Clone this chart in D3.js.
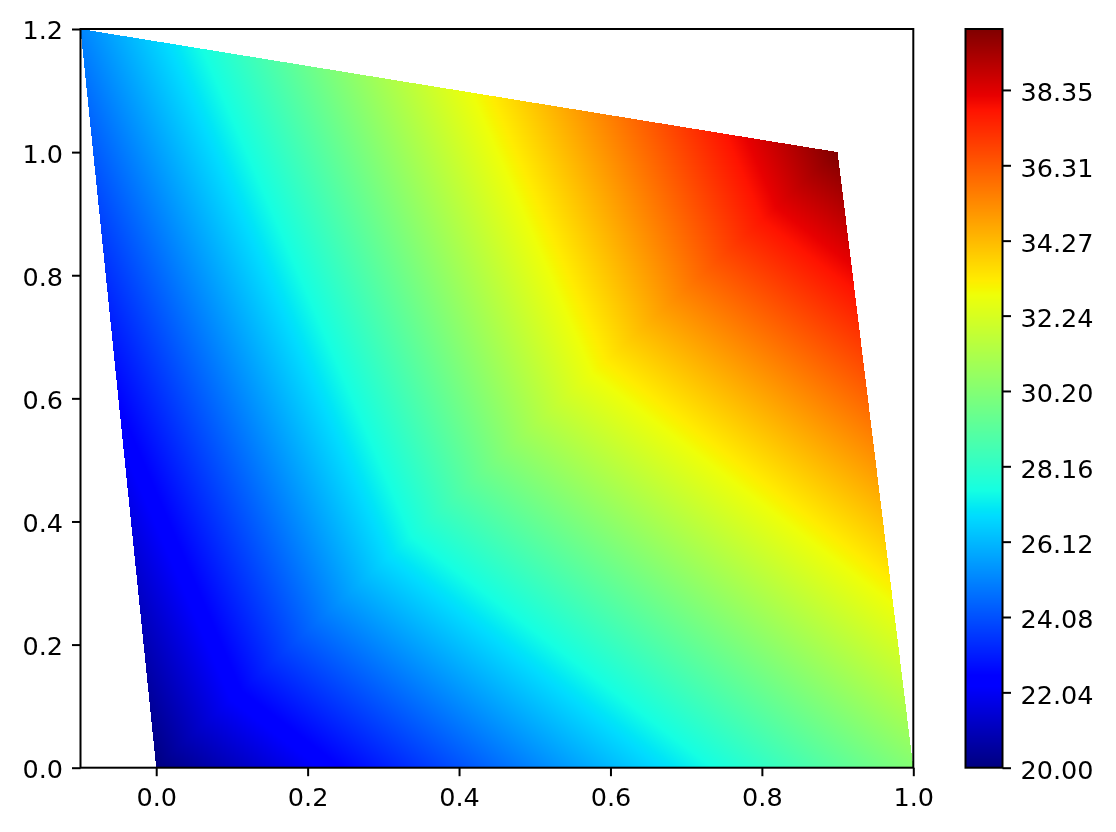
<!DOCTYPE html>
<html>
<head>
<meta charset="utf-8">
<script src="https://cdn.jsdelivr.net/npm/d3@7"></script>
<style>
  body { margin: 0; background: #fff; }
  #wrap { position: relative; width: 1116px; height: 832px; }
  #wrap canvas, #wrap svg { position: absolute; left: 0; top: 0; }
  text { font-family: "DejaVu Sans", sans-serif; font-size: 25.5px; fill: #000; }
</style>
</head>
<body>
<div id="wrap"></div>
<script>
// mesh nodes (x, y) and the value at each node
var nodeX = [0.0, 1.0, 0.9, -0.1];
var nodeY = [0.0, 0.0, 1.0, 1.2];
var nodeZ = [20.0, 30.2, 40.0, 25.1];
var triangles = [[0, 1, 2], [0, 2, 3]];

var xTicks = [0.0, 0.2, 0.4, 0.6, 0.8, 1.0];
var yTicks = [0.0, 0.2, 0.4, 0.6, 0.8, 1.0, 1.2];
var cbTicks = [20.00, 22.04, 24.08, 26.12, 28.16, 30.20, 32.24, 34.27, 36.31, 38.35];
var vmin = 20.0, vmax = 40.0;

var W = 1116, H = 832;
var margin = {left: 80.5, right: 913.3, top: 29, bottom: 767.7};
var cb = {left: 965.5, right: 1002.5};

var xScale = d3.scaleLinear().domain([-0.1, 1.0]).range([margin.left, margin.right]);
var yScale = d3.scaleLinear().domain([0, 1.2]).range([margin.bottom, margin.top]);
var cScale = d3.scaleLinear().domain([vmin, vmax]).range([margin.bottom, margin.top]);

// jet colormap, piecewise linear like matplotlib's
var jetR = d3.scaleLinear().domain([0, 0.35, 0.66, 0.89, 1]).range([0, 0, 1, 1, 0.5]).clamp(true);
var jetG = d3.scaleLinear().domain([0, 0.125, 0.375, 0.64, 0.91, 1]).range([0, 0, 1, 1, 0, 0]).clamp(true);
var jetB = d3.scaleLinear().domain([0, 0.11, 0.34, 0.65, 1]).range([0.5, 1, 1, 0, 0]).clamp(true);
var norm = d3.scaleLinear().domain([vmin, vmax]).range([0, 1]).clamp(true);
function jet(v) {
  var t = norm(v);
  return [Math.round(jetR(t) * 255), Math.round(jetG(t) * 255), Math.round(jetB(t) * 255)];
}

var wrap = d3.select('#wrap');
var canvas = wrap.append('canvas').attr('width', W).attr('height', H).node();
var ctx = canvas.getContext('2d');
var img = ctx.createImageData(W, H);

function setPix(px, py, c) {
  var k = (py * W + px) * 4;
  img.data[k] = c[0]; img.data[k + 1] = c[1]; img.data[k + 2] = c[2]; img.data[k + 3] = 255;
}

////////////////////// gouraud shaded triangles //////////////////////
for (var py = Math.floor(margin.top); py < Math.ceil(margin.bottom); py++) {
  for (var px = Math.floor(margin.left); px < Math.ceil(margin.right); px++) {
    var x = xScale.invert(px + 0.5), y = yScale.invert(py + 0.5);
    for (var t = 0; t < triangles.length; t++) {
      var a = triangles[t][0], b = triangles[t][1], c = triangles[t][2];
      var det = (nodeY[b] - nodeY[c]) * (nodeX[a] - nodeX[c]) + (nodeX[c] - nodeX[b]) * (nodeY[a] - nodeY[c]);
      var l1 = ((nodeY[b] - nodeY[c]) * (x - nodeX[c]) + (nodeX[c] - nodeX[b]) * (y - nodeY[c])) / det;
      var l2 = ((nodeY[c] - nodeY[a]) * (x - nodeX[c]) + (nodeX[a] - nodeX[c]) * (y - nodeY[c])) / det;
      var l3 = 1 - l1 - l2;
      var e = -1e-6;
      if (l1 >= e && l2 >= e && l3 >= e) {
        setPix(px, py, jet(l1 * nodeZ[a] + l2 * nodeZ[b] + l3 * nodeZ[c]));
        break;
      }
    }
  }
}

////////////////////// colorbar //////////////////////
for (var py = Math.floor(margin.top); py < Math.ceil(margin.bottom); py++) {
  var col = jet(cScale.invert(py + 0.5));
  for (var px = Math.floor(cb.left); px < Math.ceil(cb.right); px++) setPix(px, py, col);
}
ctx.putImageData(img, 0, 0);

////////////////////// axes //////////////////////
var svg = wrap.append('svg').attr('width', W).attr('height', H);

var xAxis = d3.axisBottom(xScale).tickValues(xTicks).tickFormat(d3.format('.1f')).tickSize(8.5).tickPadding(8);
var yAxis = d3.axisLeft(yScale).tickValues(yTicks).tickFormat(d3.format('.1f')).tickSize(8.5).tickPadding(9);
var cAxis = d3.axisRight(cScale).tickValues(cbTicks).tickFormat(d3.format('.2f')).tickSize(8.5).tickPadding(9.5);

function styleAxis(g) {
  g.select('.domain').remove();
  g.selectAll('.tick line').attr('stroke', '#000').attr('stroke-width', 2);
  g.selectAll('.tick text').attr('fill', '#000');
}

svg.append('g').attr('transform', 'translate(0,' + margin.bottom + ')').call(xAxis).call(styleAxis)
  .selectAll('.tick text').attr('dy', '22.3px');
svg.append('g').attr('transform', 'translate(' + margin.left + ',0)').call(yAxis).call(styleAxis)
  .selectAll('.tick text').attr('dy', '0.39em');
svg.append('g').attr('transform', 'translate(' + cb.right + ',0)').call(cAxis).call(styleAxis)
  .selectAll('.tick text').attr('dy', '0.42em');

svg.append('rect')
  .attr('x', margin.left).attr('y', margin.top)
  .attr('width', margin.right - margin.left).attr('height', margin.bottom - margin.top)
  .attr('fill', 'none').attr('stroke', '#000').attr('stroke-width', 2);

svg.append('rect')
  .attr('x', cb.left).attr('y', margin.top)
  .attr('width', cb.right - cb.left).attr('height', margin.bottom - margin.top)
  .attr('fill', 'none').attr('stroke', '#000').attr('stroke-width', 2);
</script>
</body>
</html>
